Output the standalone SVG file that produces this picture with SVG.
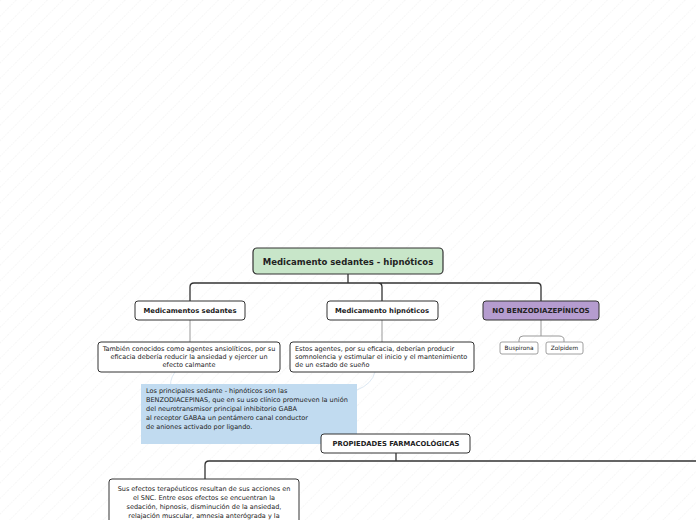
<svg xmlns="http://www.w3.org/2000/svg" width="696" height="520" viewBox="0 0 696 520">
<defs>
<pattern id="hatch" width="11" height="11" patternUnits="userSpaceOnUse" patternTransform="rotate(45)">
<line x1="0" y1="0" x2="0" y2="11" stroke="#e8e8e8" stroke-width="0.8" stroke-dasharray="1.5 1"/>
</pattern>
</defs>
<style>
text{font-family:"DejaVu Sans","Verdana",sans-serif;fill:#222}
.b{font-weight:bold}
.box{fill:#fff;stroke:#333;stroke-width:1}
.dark{fill:none;stroke:#333;stroke-width:1.3}
.gray{fill:none;stroke:#999;stroke-width:1}
.faint{fill:none;stroke:#dce8f3;stroke-width:1}
.s{font-size:6.5px}
.n{font-size:6.8px}
</style>
<rect width="696" height="520" fill="#fff"/>
<rect width="696" height="520" fill="url(#hatch)"/>
<g id="connectors">
<path class="dark" d="M348 274V283M194 283H537M194 283Q190 283 190 287V301M348 283H378Q382 283 382 287V301M537 283Q541 283 541 287V301"/>
<path class="gray" d="M190 320V342M382 320V342M541 320V336M523 336H559M523 336Q519 336 519 340V342M559 336Q564 336 564 340V342"/>
<path class="dark" d="M396 453V461M209 461H696M209 461Q205 461 205 465V479"/>
<path class="faint" d="M175 372Q168 382 172 390M375 372Q372 384 357 390"/>
</g>
<g id="root">
<rect x="253" y="248" width="190" height="26" rx="4" fill="#c8e6c9" stroke="#333" stroke-width="1.2"/>
<text class="b" x="348" y="264.5" font-size="8.5" text-anchor="middle">Medicamento sedantes - hipnóticos</text>
</g>
<g id="sedantes">
<rect class="box" x="135" y="301" width="110" height="19" rx="3"/>
<text class="b n" x="190" y="313" text-anchor="middle">Medicamentos sedantes</text>
</g>
<g id="hipnoticos">
<rect class="box" x="327" y="301" width="111" height="19" rx="3"/>
<text class="b n" x="382" y="313" text-anchor="middle">Medicamento hipnóticos</text>
</g>
<g id="nobenzo">
<rect x="483" y="301" width="116" height="19" rx="3" fill="#b59ccf" stroke="#333" stroke-width="1"/>
<text class="b" x="541" y="313" font-size="7" text-anchor="middle">NO BENZODIAZEPÍNICOS</text>
</g>
<g id="sedantes-desc">
<rect class="box" x="98" y="342" width="182" height="30" rx="3"/>
<text class="s" text-anchor="middle"><tspan x="189" y="351">También conocidos como agentes ansiolíticos, por su</tspan><tspan x="189" y="359">eficacia debería reducir la ansiedad y ejercer un</tspan><tspan x="189" y="367">efecto calmante</tspan></text>
</g>
<g id="hipnoticos-desc">
<rect class="box" x="290" y="342" width="184" height="30" rx="3"/>
<text class="s"><tspan x="295" y="351">Estos agentes, por su eficacia, deberían producir</tspan><tspan x="295" y="359">somnolencia y estimular el inicio y el mantenimiento</tspan><tspan x="295" y="367">de un estado de sueño</tspan></text>
</g>
<g id="buspirona">
<rect x="500" y="342" width="38" height="12" rx="2" fill="#fff" stroke="#888" stroke-width="0.8"/>
<text x="519" y="350.3" font-size="5.8" text-anchor="middle">Buspirona</text>
</g>
<g id="zolpidem">
<rect x="546" y="342" width="37" height="12" rx="2" fill="#fff" stroke="#888" stroke-width="0.8"/>
<text x="564.5" y="350.3" font-size="5.8" text-anchor="middle">Zolpidem</text>
</g>
<g id="note">
<rect x="141" y="384" width="216" height="60" fill="#c1dbf0"/>
<text class="s" fill="#333"><tspan x="146" y="393">Los principales sedante - hipnóticos son las</tspan><tspan x="146" y="402">BENZODIACEPINAS, que en su uso clínico promueven la unión</tspan><tspan x="146" y="411">del neurotransmisor principal inhibitorio GABA</tspan><tspan x="146" y="420">al receptor GABAa un pentámero canal conductor</tspan><tspan x="146" y="429">de aniones activado por ligando.</tspan></text>
</g>
<g id="propiedades">
<rect class="box" x="321" y="434" width="149" height="19" rx="3"/>
<text class="b n" x="396" y="446" text-anchor="middle">PROPIEDADES FARMACOLÓGICAS</text>
</g>
<g id="efectos">
<rect class="box" x="109" y="479" width="190" height="50" rx="3"/>
<text class="s" text-anchor="middle"><tspan x="204" y="491">Sus efectos terapéuticos resultan de sus acciones en</tspan><tspan x="204" y="500">el SNC. Entre esos efectos se encuentran la</tspan><tspan x="204" y="509">sedación, hipnosis, disminución de la ansiedad,</tspan><tspan x="204" y="518">relajación muscular, amnesia anterógrada y la</tspan></text>
</g>
</svg>
